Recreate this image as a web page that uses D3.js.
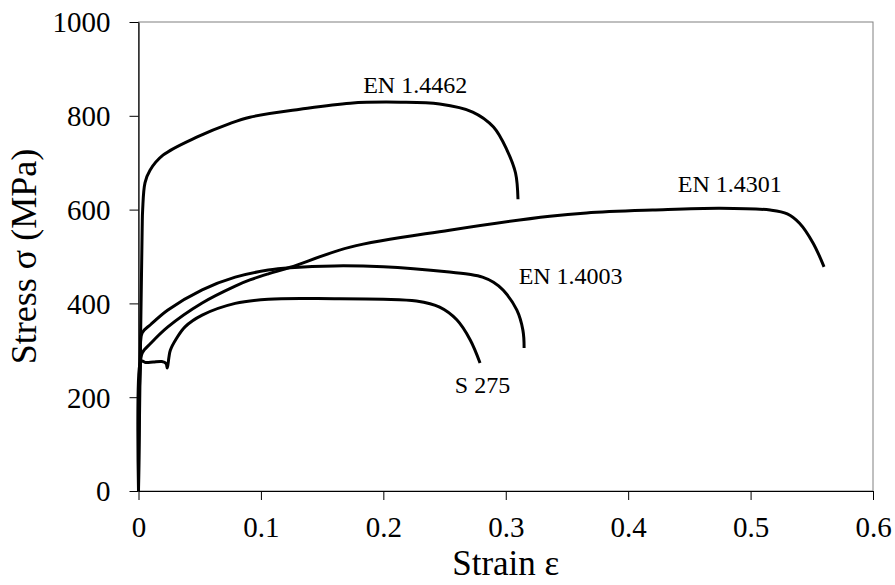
<!DOCTYPE html>
<html>
<head>
<meta charset="utf-8">
<script src="https://cdn.jsdelivr.net/npm/d3@7"></script>
</head>
<body style="margin:0">
<svg id="fig" width="895" height="585"></svg>
<script>
// ---- data ----
const xTicks = [0, 0.1, 0.2, 0.3, 0.4, 0.5, 0.6];
const yTicks = [0, 200, 400, 600, 800, 1000];
const xLabel = "Strain ε";
const yLabel = "Stress σ (MPa)";

const s275 = [[0,0],[0.0014,273],[0.003,277],[0.006,274],[0.012,275],[0.019,276],[0.0225,272],[0.0235,262],[0.0248,284],[0.026,300],[0.031,325],[0.038,350],[0.052,375],[0.079,400],[0.106,409],[0.16,410],[0.2,409],[0.227,405],[0.246,392],[0.26,365],[0.271,322],[0.279,273]];
const en14003 = [[0,0],[0.0015,290],[0.003,337],[0.01,355],[0.024,386],[0.052,429],[0.079,456],[0.106,471],[0.124,476],[0.16,480],[0.2,478],[0.254,467],[0.27,462],[0.281,456],[0.29,445],[0.298,428],[0.309,386],[0.314,343],[0.315,305]];
const en14301 = [[0,0],[0.0014,260],[0.003,294],[0.01,315],[0.024,350],[0.052,401],[0.079,437],[0.091,450],[0.106,463],[0.124,477],[0.173,520],[0.254,556],[0.336,586],[0.366,593],[0.42,599],[0.475,603],[0.516,599],[0.53,591],[0.54,571],[0.551,529],[0.56,478]];
const en14462 = [[0,0],[0.003,560],[0.0034,600],[0.0053,657],[0.0094,684],[0.02,716],[0.048,755],[0.075,784],[0.091,797],[0.132,814],[0.173,827],[0.214,829],[0.246,825],[0.273,808],[0.29,776],[0.301,727],[0.308,678],[0.31,622]];

const seriesNames = ["S 275", "EN 1.4003", "EN 1.4301", "EN 1.4462"];
const seriesData = [s275, en14003, en14301, en14462];
// label anchors in data units (strain, stress)
const labelX = [0.281, 0.353, 0.483, 0.226];
const labelY = [209, 441, 637, 849];

// ---- layout ----
const FONT = '"Liberation Serif"';
const W = 895, H = 585;
const m = {left: 138.5, right: 22, top: 22, bottom: 94};
const svg = d3.select("#fig").attr("font-family", FONT);
const x = d3.scaleLinear().domain([0, 0.6]).range([m.left, W - m.right]);
const y = d3.scaleLinear().domain([0, 1000]).range([H - m.bottom, m.top]);

const serif = sel => sel.attr("font-family", FONT).style("font-family", FONT, "important");

// plot frame (top/right)
svg.append("rect")
  .attr("x", x(0)).attr("y", y(1000))
  .attr("width", x(0.6) - x(0)).attr("height", y(0) - y(1000))
  .attr("fill", "none").attr("stroke", "#808080").attr("stroke-width", 1);

const fmtX = d => d === 0 ? "0" : d3.format(".1f")(d);

const xAxis = svg.append("g")
  .attr("transform", `translate(0,${y(0)})`)
  .call(d3.axisBottom(x).tickValues(xTicks).tickFormat(fmtX).tickSizeInner(9).tickSizeOuter(0).tickPadding(16));
const yAxis = svg.append("g")
  .attr("transform", `translate(${x(0)},0)`)
  .call(d3.axisLeft(y).tickValues(yTicks).tickFormat(d3.format("d")).tickSizeInner(9).tickSizeOuter(0).tickPadding(19));

[xAxis, yAxis].forEach(a => {
  a.attr("font-family", FONT).attr("font-size", 29);
  a.select(".domain").attr("stroke", "#000").attr("stroke-width", 1.2);
  a.selectAll(".tick line").attr("stroke", "#000").attr("stroke-width", 1);
  a.selectAll(".tick text").attr("fill", "#000").call(serif).style("font-size", "29px");
});
xAxis.selectAll(".tick text").attr("dy", "0.71em");
yAxis.selectAll(".tick text").attr("dy", "0.34em");

// lines
const line = d3.line().x(d => x(d[0])).y(d => y(d[1])).curve(d3.curveCatmullRom.alpha(0.5));
svg.append("g").selectAll("path")
  .data(seriesData).join("path")
  .attr("d", line)
  .attr("fill", "none").attr("stroke", "#000").attr("stroke-width", 3)
  .attr("stroke-linejoin", "round").attr("stroke-linecap", "butt");

// series labels
svg.append("g").selectAll("text")
  .data(seriesNames).join("text")
  .attr("x", (d, i) => x(labelX[i]))
  .attr("y", (d, i) => y(labelY[i]))
  .attr("text-anchor", "middle")
  .call(serif)
  .style("font-size", "24px")
  .attr("fill", "#000")
  .text(d => d);

// axis titles
svg.append("text")
  .attr("x", (x(0) + x(0.6)) / 2).attr("y", 575)
  .attr("text-anchor", "middle")
  .call(serif)
  .style("font-size", "35px")
  .text(xLabel);
svg.append("text")
  .attr("transform", `translate(36,${(y(0) + y(1000)) / 2}) rotate(-90)`)
  .attr("text-anchor", "middle")
  .call(serif)
  .style("font-size", "36px")
  .text(yLabel);
</script>
</body>
</html>
